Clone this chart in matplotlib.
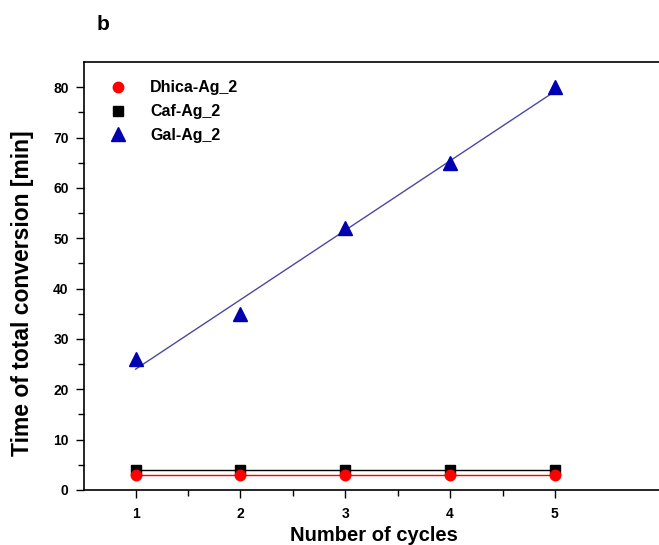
import numpy as np
import matplotlib.pyplot as plt

plt.rcParams['font.family'] = ['Liberation Sans', 'DejaVu Sans']
plt.rcParams['font.weight'] = 'bold'

cycles = [1, 2, 3, 4, 5]
dhica = [3, 3, 3, 3, 3]
caf = [4, 4, 4, 4, 4]
gal = [26, 35, 52, 65, 80]

fig = plt.figure(figsize=(6.59, 5.45), dpi=100)
ax = fig.add_axes([0.1275, 0.101, 0.88, 0.785])

ax.plot(cycles, dhica, color='red', lw=1, zorder=2)
ax.plot(cycles, caf, color='black', lw=1, zorder=2)
# linear fit for Gal-Ag_2
k, b = np.polyfit(cycles, gal, 1)
xs = np.array([cycles[0], cycles[-1]])
ax.plot(xs, k * xs + b, color='#4a4aa0', lw=1, zorder=2)

ax.plot(cycles, caf, 's', color='black', ms=7, ls='none', label='Caf-Ag_2', zorder=3)
ax.plot(cycles, dhica, 'o', color='red', ms=7.5, ls='none', label='Dhica-Ag_2', zorder=4)
ax.plot(cycles, gal, '^', color='#0000b0', ms=10, ls='none', label='Gal-Ag_2', zorder=3)

ax.set_xlim(0.5075, 6.04)
ax.set_ylim(0, 85)
ax.set_xticks(cycles)
ax.set_xticks([1.5, 2.5, 3.5, 4.5], minor=True)
ax.set_yticks(range(0, 81, 10))
ax.set_yticks(range(5, 81, 10), minor=True)
ax.tick_params(which='major', direction='out', length=6, width=1, labelsize=10, pad=5)
ax.tick_params(axis='x', which='major', pad=6)
ax.tick_params(which='minor', direction='out', length=4, width=1)
for s in ax.spines.values():
    s.set_linewidth(1.2)

ax.set_xlabel('Number of cycles', fontsize=14.5, fontweight='bold', labelpad=4)
ax.set_ylabel('Time of total conversion [min]', fontsize=16.5, fontweight='bold')
ax.yaxis.set_label_coords(-0.087, 0.46)

h, l = ax.get_legend_handles_labels()
order = [1, 0, 2]
ax.legend([h[i] for i in order], [l[i] for i in order], loc='upper left',
          frameon=False, fontsize=11.5, bbox_to_anchor=(0.0, 1.0),
          handletextpad=1.0, labelspacing=0.55, borderaxespad=0.75)

fig.text(0.147, 0.955, 'b', fontsize=15, fontweight='bold', va='center')

fig.savefig('out.png', dpi=100)
